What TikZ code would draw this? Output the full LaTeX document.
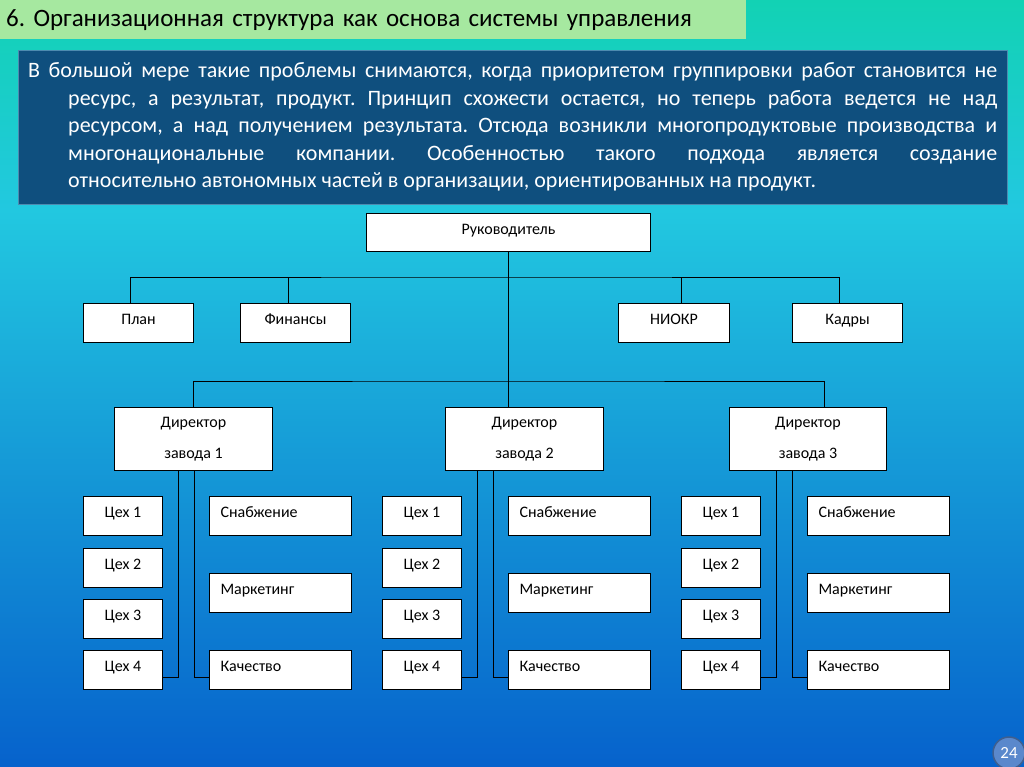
\documentclass[tikz,border=0pt]{standalone}
\usepackage{fontspec}
\setmainfont{Carlito}
\usetikzlibrary{positioning, calc}
\definecolor{bgtop}{HTML}{12D2B4}
\definecolor{bgmid}{HTML}{22C8E0}
\definecolor{bgbot}{HTML}{0662CC}
\definecolor{titlegreen}{HTML}{A6E8A0}
\definecolor{introblue}{HTML}{0F4F7E}
\definecolor{introedge}{HTML}{4D8BB0}
\definecolor{pageblue}{HTML}{5A88CC}
\frenchspacing

\begin{document}
\begin{tikzpicture}[x=1pt, y=-1pt,
  box/.style={draw, rectangle, fill=white, line width=1pt, inner sep=0pt, anchor=north west,
    font=\fontsize{16}{18}\selectfont},
  flat/.style={text height=10pt, text depth=7pt},
  deptbox/.style={box, flat, minimum width=110pt, minimum height=39pt},
  dirbox/.style={box, minimum width=158pt, minimum height=63pt, align=center},
  cehbox/.style={box, flat, minimum width=79pt, minimum height=39pt},
  servbox/.style={box, flat, minimum width=142pt, minimum height=39pt, text width=120pt, inner xsep=11pt, align=left},
  link/.style={line width=1pt}]

  \useasboundingbox (0,0) rectangle (1024,767);
  \shade[top color=bgtop, bottom color=bgmid] (0,0) rectangle (1024,210);
  \shade[top color=bgmid, bottom color=bgbot] (0,210) rectangle (1024,767);

  % header
  \node[fill=titlegreen, anchor=north west, minimum width=746pt, minimum height=39pt,
    text width=734pt, inner xsep=6pt, align=left, font=\fontsize{25}{29}\selectfont] (title) at (0,0)
    {6. Организационная структура как основа системы управления};

  \node[fill=introblue, draw=introedge, anchor=north west, minimum width=989pt, minimum height=154pt,
    text width=969pt, inner xsep=10pt, align=justify, text=white, font=\fontsize{22}{27.5}\selectfont] (intro) at (18,50)
    {\hangindent=40pt \hangafter=1 В большой мере такие проблемы снимаются, когда приоритетом группировки работ становится не\linebreak
     ресурс, а результат, продукт. Принцип схожести остается, но теперь работа ведется не над\linebreak
     ресурсом, а над получением результата. Отсюда возникли многопродуктовые производства и\linebreak
     многонациональные компании. Особенностью такого подхода является создание\linebreak
     относительно автономных частей в организации, ориентированных на продукт.\par};

  % chart
  \node[box, flat, minimum width=284pt, minimum height=38pt] (ruk) at (366,213) {Руководитель};

  \node[deptbox] (plan) at (83,303) {План};
  \node[deptbox] (fin) at (240,303) {Финансы};
  \node[deptbox, minimum width=111pt] (niokr) at (618,303) {НИОКР};
  \node[deptbox] (kadry) at (792,303) {Кадры};

  \node[dirbox] (d1) at (114,407) {Директор\\[13pt]завода 1};
  \node[dirbox] (d2) at (445,407) {Директор\\[13pt]завода 2};
  \node[dirbox, minimum width=157pt] (d3) at (729,407) {Директор\\[13pt]завода 3};

  \coordinate (bus1) at (508,277);
  \coordinate (bus2) at (508,381);

  \draw[link] (ruk.south) -- (ruk.south |- d2.north);
  \draw[link] ($(plan.north)+(-8,0)$) |- (bus1) -| ($(kadry.north)+(-8,0)$);
  \draw[link] ($(fin.north)+(-7,0)$) -- ++(0,-26);
  \draw[link] ($(niokr.north)+(7,0)$) -- ++(0,-26);
  \draw[link] (d1.north) |- (bus2) -| ($(d3.north)+(16,0)$);

  \foreach \g/\cx/\sx in {1/83/209, 2/382/508, 3/681/807} {
    \node[cehbox] (ceh\g-1) at (\cx,496) {Цех 1};
    \node[cehbox] (ceh\g-2) at (\cx,548) {Цех 2};
    \node[cehbox] (ceh\g-3) at (\cx,599) {Цех 3};
    \node[cehbox] (ceh\g-4) at (\cx,650) {Цех 4};
    \node[servbox] (serv\g-1) at (\sx,496) {Снабжение};
    \node[servbox] (serv\g-2) at (\sx,573) {Маркетинг};
    \node[servbox] (serv\g-3) at (\sx,650) {Качество};
    \draw[link] ($(d\g.south -| ceh\g-4.east)+(15,0)$) |- ($(ceh\g-4.south east)+(0,-13)$);
    \draw[link] ($(d\g.south -| ceh\g-4.east)+(31,0)$) |- ($(serv\g-3.south west)+(0,-13)$);
  }

  \node[circle, fill=pageblue, draw=pageblue!70!black, line width=1.5pt, text=white, minimum size=32pt, inner sep=0pt,
    font=\fontsize{17}{20}\selectfont] (pagenum) at (1009,753) {24};
\end{tikzpicture}
\end{document}
